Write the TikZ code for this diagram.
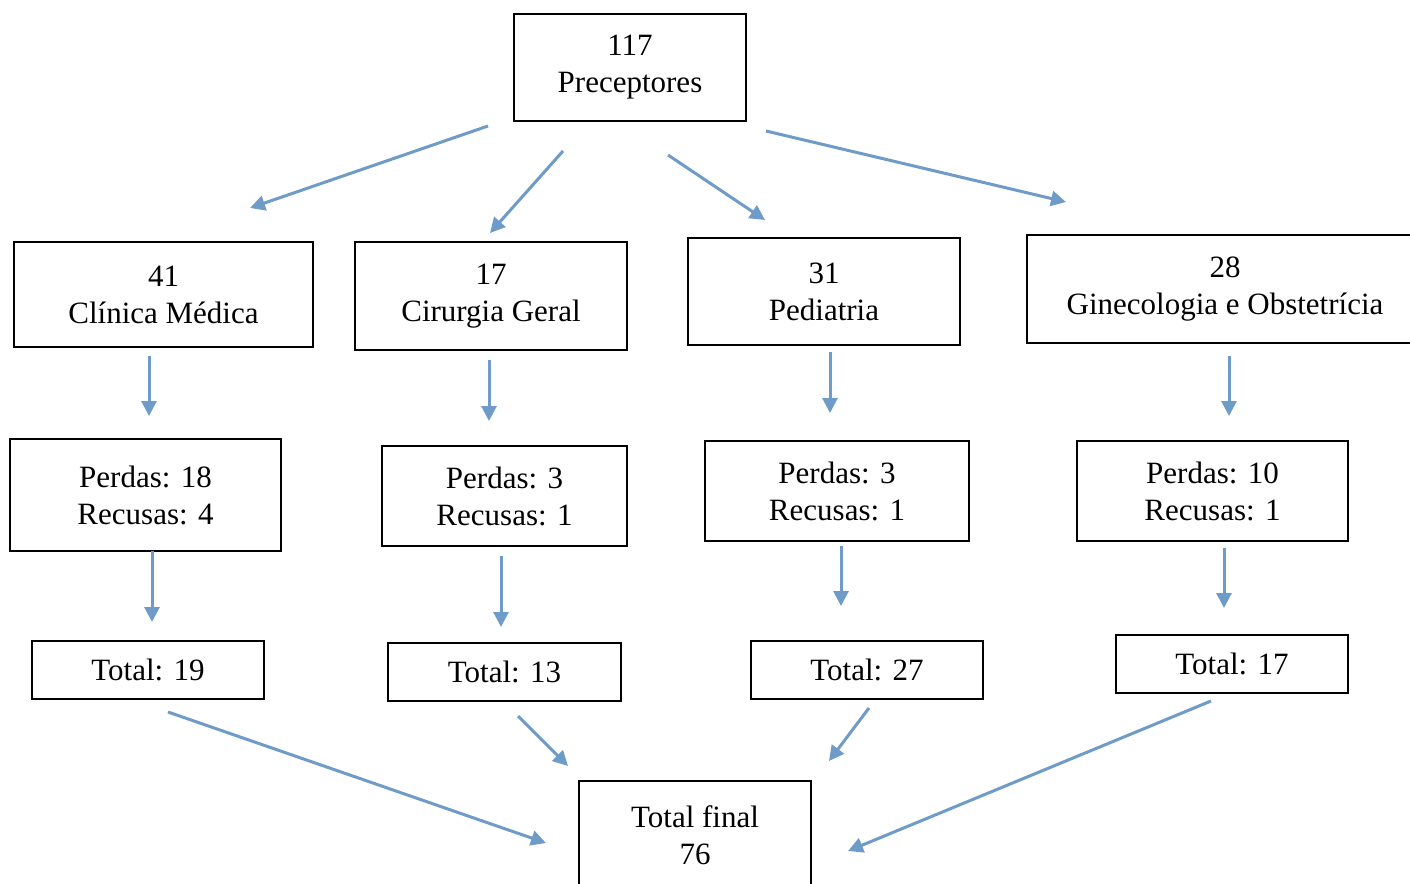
\documentclass[tikz,border=0pt]{standalone}
\usepackage{fontspec}
\setmainfont{Liberation Serif}
\usetikzlibrary{arrows.meta}
\definecolor{flowblue}{HTML}{6F9BC8}

\begin{document}
\begin{tikzpicture}[x=0.5pt, y=-0.5pt,
  every node/.style={font=\fontsize{15.5}{18.5}\selectfont, align=center, inner sep=0pt},
  box/.style={draw=black, line width=1pt},
  flow/.style={draw=flowblue, line width=1.5pt, -{Triangle[length=7.5pt,width=7.5pt]}}]

  \useasboundingbox (0,0) rectangle (1410,884);

  % ---- Top ----
  \node[box, minimum width=116pt, minimum height=53.5pt] (pre) at (630,67) {117\\Preceptores};

  % ---- Specialties ----
  \node[box, minimum width=149.5pt, minimum height=52.5pt] (clin) at (163.5,294.5) {41\\Clínica Médica};
  \node[box, minimum width=136pt, minimum height=54pt] (cir) at (491,296) {17\\Cirurgia Geral};
  \node[box, minimum width=136pt, minimum height=53.5pt] (ped) at (824,291.5) {31\\Pediatria};
  \node[box, minimum width=198pt, minimum height=54pt] (gin) at (1225,289) {28\\Ginecologia e Obstetrícia};

  % ---- Losses ----
  \node[box, minimum width=135.5pt, minimum height=56pt] (pclin) at (145.5,495) {Perdas: 18\\Recusas: 4};
  \node[box, minimum width=122.5pt, minimum height=50pt] (pcir) at (504.5,496) {Perdas: 3\\Recusas: 1};
  \node[box, minimum width=132pt, minimum height=50pt] (pped) at (837,491) {Perdas: 3\\Recusas: 1};
  \node[box, minimum width=135.5pt, minimum height=50pt] (pgin) at (1212.5,491) {Perdas: 10\\Recusas: 1};

  % ---- Totals ----
  \node[box, minimum width=116pt, minimum height=29pt] (tclin) at (148,670) {Total: 19};
  \node[box, minimum width=116.5pt, minimum height=29pt] (tcir) at (504.5,672) {Total: 13};
  \node[box, minimum width=116pt, minimum height=29pt] (tped) at (867,670) {Total: 27};
  \node[box, minimum width=116pt, minimum height=29pt] (tgin) at (1232,664) {Total: 17};

  % ---- Final ----
  \node[box, minimum width=116pt, minimum height=54pt] (fin) at (695,835) {Total final\\76};

  % ---- Arrows ----
  \foreach \n/\sx/\sy/\ex/\ey in {
      1/488/126/250/208, 2/563/151/490/233, 3/668/155/765/220, 4/766/131/1066/202,
      5/149/356/149/416, 6/489/360/489/421, 7/830/352/830/413, 8/1229/356/1229/416,
      9/152/551/152/622, 10/501/556/501/627, 11/841/546/841/606, 12/1224/548/1224/608,
      13/168/712/546/843, 14/518/716/568/766, 15/869/708/829/761, 16/1211/701/848/851}{
    \coordinate (s\n) at (\sx,\sy);
    \coordinate (e\n) at (\ex,\ey);
    \draw[flow] (s\n) -- (e\n);
  }

\end{tikzpicture}
\end{document}
